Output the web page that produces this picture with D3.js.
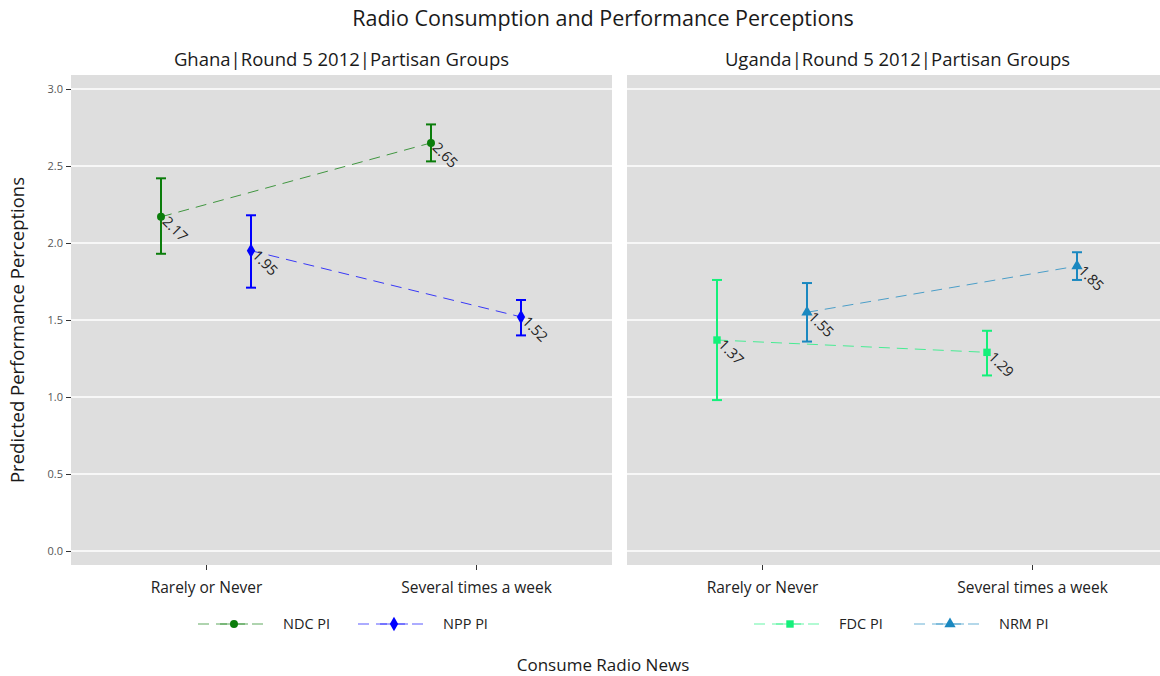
<!DOCTYPE html>
<html>
<head>
<meta charset="utf-8">
<script src="https://cdn.jsdelivr.net/npm/d3@7"></script>
<style>
body { margin: 0; background: #fff; }
text { font-family: "Open Sans", Lato, sans-serif; }
</style>
</head>
<body>
<script>
// data
var categories = ["Rarely or Never", "Several times a week"];
var yTicks = [0, 0.5, 1, 1.5, 2, 2.5, 3];

var ghanaGroups = ["NDC PI", "NPP PI"];
var ghanaFit = [[2.17, 2.65], [1.95, 1.52]];
var ghanaLow = [[1.93, 2.53], [1.71, 1.40]];
var ghanaHigh = [[2.42, 2.77], [2.18, 1.63]];

var ugandaGroups = ["FDC PI", "NRM PI"];
var ugandaFit = [[1.37, 1.29], [1.55, 1.85]];
var ugandaLow = [[0.98, 1.14], [1.36, 1.76]];
var ugandaHigh = [[1.76, 1.43], [1.74, 1.94]];

var panels = [
  {title: "Ghana|Round 5 2012|Partisan Groups", groups: ghanaGroups, fit: ghanaFit, lo: ghanaLow, hi: ghanaHigh,
   colors: ["#0b7d0b", "#0000ff"], shapes: [d3.symbolCircle, d3.symbolDiamond], sizes: [50, 60], x0: 71},
  {title: "Uganda|Round 5 2012|Partisan Groups", groups: ugandaGroups, fit: ugandaFit, lo: ugandaLow, hi: ugandaHigh,
   colors: ["#14f07a", "#1a88c0"], shapes: [d3.symbolSquare, d3.symbolTriangle], sizes: [55, 55], x0: 627}
];

var W = 1160, H = 676;
var pw = 541, panelTop = 75, panelBottom = 565;

var svg = d3.select("body").append("svg").attr("width", W).attr("height", H);

var y = d3.scaleLinear().domain([0, 3]).range([551, 89]);

svg.append("text").attr("x", 603).attr("y", 26).attr("text-anchor", "middle")
  .attr("font-size", 21.5).attr("fill", "#1a1a1a").text("Radio Consumption and Performance Perceptions");

svg.append("text").attr("transform", "translate(24,330) rotate(-90)").attr("text-anchor", "middle")
  .attr("font-size", 18.5).attr("fill", "#1a1a1a").text("Predicted Performance Perceptions");

svg.append("text").attr("x", 603).attr("y", 671).attr("text-anchor", "middle")
  .attr("font-size", 17).attr("fill", "#1a1a1a").text("Consume Radio News");

panels.forEach(function(p, pi) {
  var x = d3.scalePoint().domain(categories).range([p.x0 + 135, p.x0 + 405]);
  var g = svg.append("g");

  g.append("rect").attr("x", p.x0).attr("y", panelTop).attr("width", pw).attr("height", panelBottom - panelTop).attr("fill", "#dedede");

  g.selectAll(".grid").data(yTicks).enter().append("line")
    .attr("x1", p.x0).attr("x2", p.x0 + pw)
    .attr("y1", function(d) { return y(d); }).attr("y2", function(d) { return y(d); })
    .attr("stroke", "#fff").attr("stroke-width", 1.3);

  g.append("text").attr("x", p.x0 + pw / 2).attr("y", 66).attr("text-anchor", "middle")
    .attr("font-size", 18.5).attr("fill", "#1a1a1a").text(p.title);

  // x axis
  var xa = g.append("g").attr("transform", "translate(0," + panelBottom + ")")
    .call(d3.axisBottom(x).tickSize(5).tickPadding(12));
  xa.select(".domain").remove();
  xa.selectAll("line").attr("stroke", "#333");
  xa.selectAll("text").attr("font-size", 15.5).attr("fill", "#222").style("font-family", "'Open Sans', sans-serif");

  if (pi == 0) {
    var ya = g.append("g").attr("transform", "translate(" + p.x0 + ",0)")
      .call(d3.axisLeft(y).tickValues(yTicks).tickFormat(d3.format(".1f")).tickSize(5).tickPadding(3));
    ya.select(".domain").remove();
    ya.selectAll("line").attr("stroke", "#333");
    ya.selectAll("text").attr("font-size", 11).attr("fill", "#555").style("font-family", "'Open Sans', sans-serif");
  }

  p.groups.forEach(function(grp, gi) {
    var off = gi == 0 ? -45 : 45;
    var col = p.colors[gi];
    var pts = categories.map(function(c, ci) {
      return {x: x(c) + off, v: p.fit[gi][ci], lo: p.lo[gi][ci], hi: p.hi[gi][ci]};
    });

    g.append("path").datum(pts)
      .attr("d", d3.line().x(function(d) { return d.x; }).y(function(d) { return y(d.v); }))
      .attr("fill", "none").attr("stroke", col).attr("stroke-opacity", 0.75)
      .attr("stroke-width", 1).attr("stroke-dasharray", "11,7");

    var eb = g.selectAll(".eb" + gi).data(pts).enter().append("g");
    eb.append("line").attr("x1", function(d) { return d.x; }).attr("x2", function(d) { return d.x; })
      .attr("y1", function(d) { return y(d.lo); }).attr("y2", function(d) { return y(d.hi); })
      .attr("stroke", col).attr("stroke-width", 2);
    [ "lo", "hi" ].forEach(function(k) {
      eb.append("line").attr("x1", function(d) { return d.x - 5; }).attr("x2", function(d) { return d.x + 5; })
        .attr("y1", function(d) { return y(d[k]); }).attr("y2", function(d) { return y(d[k]); })
        .attr("stroke", col).attr("stroke-width", 2);
    });

    g.selectAll(".pt" + gi).data(pts).enter().append("path")
      .attr("transform", function(d) { return "translate(" + d.x + "," + y(d.v) + ")"; })
      .attr("d", d3.symbol().type(p.shapes[gi]).size(p.sizes[gi]))
      .attr("fill", col);

    g.selectAll(".lab" + gi).data(pts).enter().append("text")
      .attr("transform", function(d) { return "translate(" + (d.x + 4) + "," + (y(d.v) + 2) + ") rotate(45)"; })
      .attr("font-size", 14.5).attr("fill", "#222").attr("dy", "0.35em")
      .text(function(d) { return d3.format(".2f")(d.v); });

    // legend
    var lx = p.x0 + 127 + gi * 160, ly = 624;
    var lg = g.append("g");
    lg.append("line").attr("x1", lx).attr("x2", lx + 72).attr("y1", ly).attr("y2", ly)
      .attr("stroke", col).attr("stroke-opacity", 0.65).attr("stroke-dasharray", "11,7");
    lg.append("line").attr("x1", lx + 22).attr("x2", lx + 50).attr("y1", ly).attr("y2", ly)
      .attr("stroke", col).attr("stroke-opacity", 0.65);
    lg.append("path").attr("transform", "translate(" + (lx + 36) + "," + ly + ")")
      .attr("d", d3.symbol().type(p.shapes[gi]).size(p.sizes[gi])).attr("fill", col);
    lg.append("text").attr("x", lx + 85).attr("y", ly + 5).attr("font-size", 14.5).attr("fill", "#222").text(grp);
  });
});
</script>
</body>
</html>
